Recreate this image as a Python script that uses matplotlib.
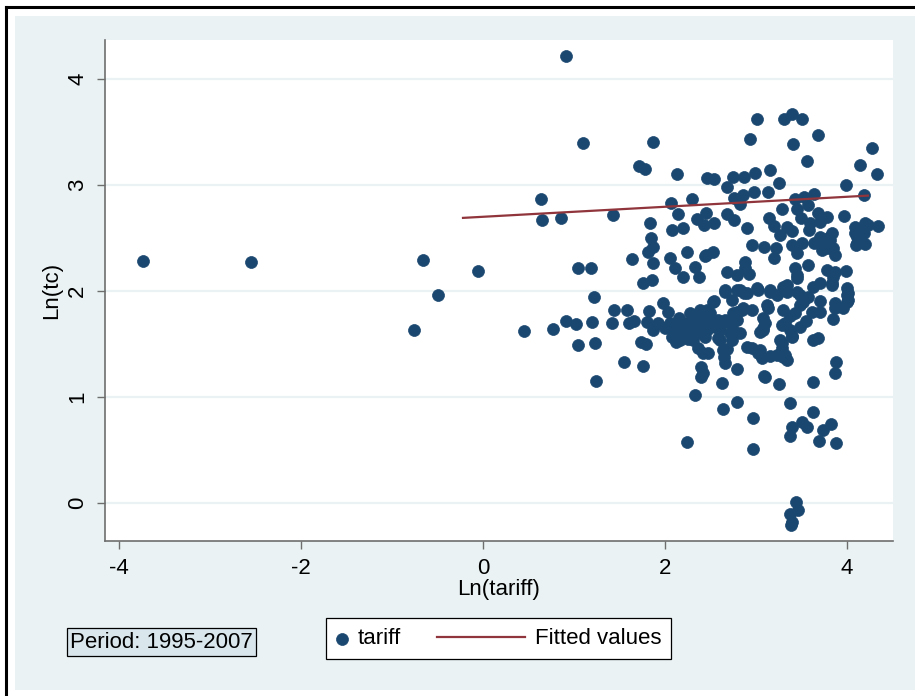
import numpy as np
import matplotlib.pyplot as plt
from matplotlib.lines import Line2D
from matplotlib.patches import Rectangle
from matplotlib.legend_handler import HandlerPathCollection, HandlerLine2D

plt.rcParams['font.family'] = ['Liberation Sans', 'DejaVu Sans']
plt.rcParams['axes.unicode_minus'] = False

# points (ln tariff, ln tc)
pts = [
    (-3.74, 2.28), (-2.55, 2.27), (-0.76, 1.63), (-0.66, 2.29), (-0.50, 1.96),
    (-0.05, 2.19), (0.45, 1.62), (0.64, 2.87), (0.65, 2.67), (0.86, 2.69),
    (0.77, 1.64), (0.91, 4.22), (1.10, 3.40), (1.04, 2.22), (1.19, 2.22),
    (0.91, 1.72), (1.02, 1.69), (1.20, 1.71), (1.04, 1.49), (1.23, 1.51),
    (1.24, 1.15), (1.22, 1.94), (1.43, 2.72), (1.44, 1.82), (1.58, 1.82),
    (1.42, 1.70), (1.60, 1.70), (1.66, 1.72), (1.55, 1.33), (1.76, 1.29),
    (1.74, 1.52), (1.79, 1.50), (1.82, 1.81), (1.80, 1.71), (1.87, 1.63),
    (1.92, 1.70), (1.98, 1.89), (2.03, 1.80), (2.08, 1.57), (2.16, 1.54),
    (2.24, 0.58), (2.33, 1.02), (2.40, 1.28), (2.40, 1.19), (2.36, 1.46),
    (1.87, 3.41), (1.71, 3.18), (1.78, 3.15), (2.13, 3.10), (2.46, 3.07),
    (2.54, 3.06), (2.75, 3.08), (2.87, 3.08), (2.99, 3.11), (3.15, 3.14),
    (3.25, 3.02), (2.68, 2.98), (2.76, 2.88), (2.86, 2.91), (2.82, 2.82),
    (2.98, 2.93), (3.13, 2.93), (3.01, 3.62), (2.93, 3.43), (3.31, 3.62),
    (3.40, 3.67), (3.51, 3.62), (3.41, 3.39), (3.68, 3.47), (3.56, 3.23),
    (4.27, 3.35), (4.14, 3.19), (4.33, 3.10), (3.99, 3.00), (4.19, 2.91),
    (2.07, 2.83), (2.30, 2.87), (2.14, 2.73), (1.84, 2.64), (2.08, 2.58),
    (2.20, 2.59), (2.35, 2.68), (2.43, 2.62), (2.45, 2.74), (1.85, 2.50),
    (1.87, 2.42), (1.81, 2.37), (1.64, 2.30), (1.87, 2.26), (2.05, 2.31),
    (2.11, 2.22), (2.24, 2.37), (2.33, 2.23), (2.20, 2.13), (2.37, 2.13),
    (2.44, 2.33), (1.76, 2.08), (1.86, 2.10), (2.27, 1.79), (2.38, 1.82),
    (2.54, 2.64), (2.68, 2.73), (2.76, 2.67), (2.90, 2.59), (2.96, 2.43),
    (3.09, 2.42), (3.20, 2.31), (3.22, 2.41), (3.14, 2.69), (3.20, 2.61),
    (3.29, 2.77), (3.26, 2.53), (3.34, 2.60), (3.40, 2.57), (3.43, 2.87),
    (3.53, 2.89), (3.64, 2.92), (3.57, 2.81), (3.45, 2.77), (3.49, 2.69),
    (3.59, 2.64), (3.68, 2.74), (3.78, 2.70), (3.70, 2.65), (3.58, 2.58),
    (3.70, 2.51), (3.84, 2.55), (3.79, 2.50), (3.51, 2.45), (3.40, 2.43),
    (3.45, 2.36), (3.73, 2.39), (3.85, 2.41), (3.87, 2.34), (3.97, 2.71),
    (4.09, 2.60), (4.20, 2.64), (4.34, 2.61), (4.23, 2.62), (4.11, 2.51),
    (4.19, 2.55), (4.10, 2.43), (4.20, 2.44), (2.53, 2.37), (2.54, 1.91),
    (2.68, 2.18), (2.79, 2.15), (2.88, 2.27), (2.88, 2.22), (2.92, 2.16),
    (2.66, 2.01), (2.79, 2.01), (2.87, 1.98), (3.01, 2.03), (3.15, 2.01),
    (3.30, 2.04), (3.45, 1.99), (3.57, 1.94), (3.43, 2.22), (3.45, 2.15),
    (3.57, 2.25), (3.70, 2.08), (3.84, 2.06), (3.78, 2.20), (3.87, 2.18),
    (3.99, 2.19), (4.00, 2.03), (4.01, 1.92), (4.00, 1.96), (3.87, 1.89),
    (3.70, 1.91), (3.64, 2.45), (3.73, 2.43), (3.79, 2.41), (3.81, 2.48),
    (4.11, 2.45), (4.09, 2.55), (2.45, 2.34), (3.45, 2.12), (3.84, 2.08),
    (3.85, 2.13), (3.63, 2.04), (4.01, 1.98), (4.00, 1.90), (3.96, 1.84),
    (3.87, 1.84), (3.85, 1.74), (3.70, 1.80), (3.63, 1.54), (3.68, 1.56),
    (3.88, 1.33), (3.87, 1.23), (3.63, 1.14), (3.25, 1.12), (3.09, 1.20),
    (2.79, 1.26), (2.63, 1.13), (2.66, 1.32), (2.68, 1.45), (2.90, 1.47),
    (2.96, 1.46), (3.04, 1.44), (3.15, 1.39), (3.26, 1.54), (3.28, 1.46),
    (3.32, 1.40), (3.34, 1.35), (3.07, 1.37), (3.04, 1.61), (3.08, 1.65),
    (3.10, 1.70), (3.08, 1.75), (3.13, 1.84), (3.12, 1.87), (3.30, 1.82),
    (3.32, 1.70), (3.37, 1.63), (3.40, 1.57), (3.48, 1.66), (3.37, 1.76),
    (3.43, 1.79), (3.48, 1.87), (3.52, 1.90), (3.48, 1.96), (3.34, 1.99),
    (3.23, 1.96), (3.15, 1.99), (3.02, 2.01), (2.90, 1.98), (2.82, 2.01),
    (2.74, 1.92), (2.66, 1.99), (2.53, 1.90), (3.34, 2.06), (2.79, 1.80),
    (2.86, 1.84), (2.96, 1.82), (2.79, 1.73), (2.75, 1.63), (2.82, 1.60),
    (2.74, 1.54), (2.60, 1.54), (2.60, 1.63), (2.46, 1.63), (2.44, 1.75),
    (2.46, 1.82), (2.58, 1.73), (2.66, 1.73), (2.42, 1.42), (2.47, 1.42),
    (2.42, 1.23), (2.65, 1.38), (2.14, 1.66), (2.24, 1.63), (2.31, 1.54),
    (2.38, 1.68), (2.44, 1.57), (2.49, 1.79), (2.55, 1.66), (2.58, 1.56),
    (2.64, 1.44), (2.68, 1.71), (2.71, 1.60), (2.75, 1.79), (2.85, 1.82),
    (3.02, 1.42), (3.08, 1.63), (3.23, 1.40), (3.30, 1.38), (3.28, 1.51),
    (3.28, 1.68), (3.40, 1.58), (2.64, 0.89), (2.79, 0.95), (2.97, 0.80),
    (2.97, 0.51), (3.10, 1.19), (3.37, 0.94), (3.40, 0.72), (3.37, 0.63),
    (3.51, 0.76), (3.56, 0.72), (3.63, 0.86), (3.74, 0.69), (3.69, 0.59),
    (3.82, 0.75), (3.88, 0.57), (3.44, 0.01), (3.46, -0.07), (3.37, -0.10),
    (3.40, -0.18), (3.38, -0.21), (2.10, 1.60), (2.20, 1.70), (2.30, 1.65),
    (2.35, 1.75), (2.00, 1.65), (2.15, 1.75), (2.25, 1.55), (2.40, 1.60),
    (2.50, 1.70), (2.05, 1.70), (2.28, 1.72), (2.18, 1.62), (2.42, 1.68),
    (2.12, 1.52), (2.33, 1.60), (3.62, 1.80), (3.55, 1.72),
]
tariff = [p[0] for p in pts]
tc = [p[1] for p in pts]

fit_x = [-0.22, 4.23]
fit_y = [2.69, 2.90]

xticks = [-4, -2, 0, 2, 4]
yticks = [0, 1, 2, 3, 4]

navy = '#1a476f'
maroon = '#90353b'
bg = '#eaf2f3'

fig = plt.figure(figsize=(9.15, 6.96), dpi=100, facecolor='white')
fig.patches.append(Rectangle((15 / 915, 6 / 696), 1, 1 - 22 / 696,
                             transform=fig.transFigure, fc=bg, ec='none', zorder=-5))
fig.lines.append(Line2D([6 / 915, 6 / 915], [0, 1 - 7 / 696], transform=fig.transFigure,
                        color='black', lw=2.2))
fig.lines.append(Line2D([6 / 915, 1], [1 - 7 / 696, 1 - 7 / 696], transform=fig.transFigure,
                        color='black', lw=2.2))

ax = fig.add_axes([105 / 915, 1 - 541 / 696, 788 / 915, 501 / 696])
ax.set_facecolor('white')

sc = ax.scatter(tariff, tc, s=74, color=navy, edgecolors=navy, linewidths=0.5,
                zorder=3, label='tariff')
ln, = ax.plot(fit_x, fit_y, color=maroon, lw=1.6, zorder=4, label='Fitted values')

ax.set_xlim(-4.154, 4.505)
ax.set_ylim(-0.358, 4.368)
ax.set_xticks(xticks)
ax.set_yticks(yticks)
ax.grid(axis='y', color=bg, lw=1.6, zorder=0)
ax.set_axisbelow(True)

for s in ['top', 'right']:
    ax.spines[s].set_visible(False)
for s in ['left', 'bottom']:
    ax.spines[s].set_color('#6e6e6e')
    ax.spines[s].set_linewidth(1.2)

ax.tick_params(axis='both', colors='#6e6e6e', labelcolor='black', length=6,
               width=1, labelsize=16)
ax.tick_params(axis='x', pad=6)
ax.tick_params(axis='y', pad=6)
for lab in ax.get_yticklabels():
    lab.set_rotation(90)
    lab.set_va('center')

ax.set_xlabel('Ln(tariff)', fontsize=16, labelpad=0)
ax.set_ylabel('Ln(tc)', fontsize=16, labelpad=4)


class MarkerHandler(HandlerPathCollection):
    def get_xdata(self, legend, xdescent, ydescent, width, height, fontsize):
        xd, xm = super().get_xdata(legend, xdescent, ydescent, width, height, fontsize)
        return xd, [-xdescent + 0.5 * width]


class LongLine(HandlerLine2D):
    # stata draws the key line longer than the marker key
    def create_artists(self, legend, orig_handle, xdescent, ydescent, width, height,
                       fontsize, trans):
        line = Line2D([-xdescent - 3.45 * fontsize, -xdescent + width],
                      [height / 2 - ydescent] * 2)
        self.update_prop(line, orig_handle, legend)
        line.set_transform(trans)
        return [line]


leg = ax.legend([sc, ln], ['tariff', 'Fitted values'], ncol=2,
                handler_map={sc: MarkerHandler(), ln: LongLine()},
                loc='center', bbox_to_anchor=(0.545, 0.082),
                bbox_transform=fig.transFigure, fontsize=16,
                handlelength=0.5, handletextpad=0.45, columnspacing=5.1,
                borderpad=0.45, fancybox=False, framealpha=1, facecolor='white',
                edgecolor='black', scatterpoints=1)
leg.get_frame().set_linewidth(0.9)

fig.text(70 / 915, 1 - 642 / 696, 'Period: 1995-2007', fontsize=16, va='center', ha='left',
         bbox=dict(boxstyle='square,pad=0.15', fc='#d9e6ec', ec='black', lw=0.9))

fig.savefig('out.png', dpi=100)
